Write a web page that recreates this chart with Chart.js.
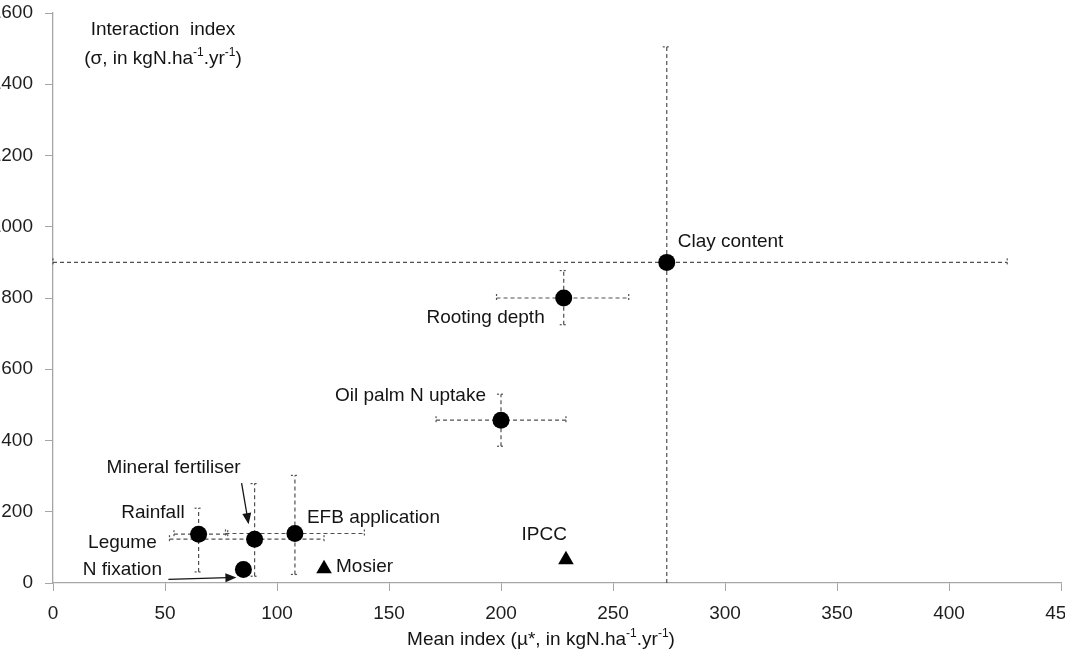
<!DOCTYPE html>
<html>
<head>
<meta charset="utf-8">
<script src="https://cdn.jsdelivr.net/npm/chart.js@4/dist/chart.umd.min.js"></script>
<style>
  html, body { margin: 0; padding: 0; background: #ffffff; overflow: hidden; width: 1065px; height: 661px; }
  #wrap { position: absolute; left: -20px; top: 0; }
</style>
</head>
<body>
<div id="wrap"><canvas id="c" width="1105" height="661"></canvas></div>
<script>
// ---- Data ----
const paramNames = ['Clay content', 'Rooting depth', 'Oil palm N uptake', 'Mineral fertiliser', 'Rainfall', 'EFB application', 'Legume N fixation'];
const meanIndex  = [274, 228, 200, 90, 65, 108, 85];          // μ*
const interIndex = [900, 800, 457, 123, 137, 139, 38];        // σ
const meanLow    = [0, 198, 171, 52, 54, 77, null];
const meanHigh   = [426, 257, 229, 121, 78, 139, null];
const interLow   = [0, 725, 384, 19, 31, 24, null];
const interHigh  = [1505, 877, 530, 279, 210, 302, null];

const refNames = ['Mosier', 'IPCC'];
const refMean  = [121, 229];
const refInter = [40, 65];

const xTicks = [0, 50, 100, 150, 200, 250, 300, 350, 400, 450];
const yTicks = [0, 200, 400, 600, 800, 1000, 1200, 1400, 1600];

// ---- Label styling (pixel offsets from each point) ----
const FONT = '"Liberation Sans", Arial, sans-serif';
const paramLabelStyle = [
  { lines: ['Clay content'], dx: 11, dy: -21, align: 'left' },
  { lines: ['Rooting depth'], dx: -19, dy: 20, align: 'right' },
  { lines: ['Oil palm N uptake'], dx: -15, dy: -24, align: 'right' },
  { lines: ['Mineral fertiliser'], dx: -81, dy: -71, align: 'center', arrow: [-13, -56, -6, -15] },
  { lines: ['Rainfall'], dx: -14, dy: -21, align: 'right' },
  { lines: ['EFB application'], dx: 12, dy: -16, align: 'left' },
  { lines: ['Legume', 'N fixation'], dx: -121, dy: -27, lineGap: 27, align: 'center', arrow: [-75, 10, -7, 8] }
];
const refLabelStyle = [
  { lines: ['Mosier'], dx: 12, dy: -2, align: 'left' },
  { lines: ['IPCC'], dx: 1, dy: -25, align: 'right' }
];

function drawRich(ctx, segs, x, y, size, align) {
  const supSize = Math.round(size * 0.62);
  let total = 0;
  const widths = segs.map(s => {
    ctx.font = (s.sup ? supSize : size) + 'px ' + FONT;
    const w = ctx.measureText(s.t).width;
    total += w;
    return w;
  });
  let cx = align === 'center' ? x - total / 2 : (align === 'right' ? x - total : x);
  ctx.textAlign = 'left';
  ctx.textBaseline = 'middle';
  segs.forEach((s, i) => {
    ctx.font = (s.sup ? supSize : size) + 'px ' + FONT;
    ctx.fillText(s.t, cx, s.sup ? y - size * 0.33 : y);
    cx += widths[i];
  });
}

function drawArrow(ctx, x1, y1, x2, y2) {
  const ang = Math.atan2(y2 - y1, x2 - x1);
  const head = 11, hw = 4.5;
  ctx.beginPath();
  ctx.moveTo(x1, y1);
  ctx.lineTo(x2 - Math.cos(ang) * head * 0.8, y2 - Math.sin(ang) * head * 0.8);
  ctx.stroke();
  ctx.beginPath();
  ctx.moveTo(x2, y2);
  ctx.lineTo(x2 - Math.cos(ang) * head - Math.sin(ang) * hw, y2 - Math.sin(ang) * head + Math.cos(ang) * hw);
  ctx.lineTo(x2 - Math.cos(ang) * head + Math.sin(ang) * hw, y2 - Math.sin(ang) * head - Math.cos(ang) * hw);
  ctx.closePath();
  ctx.fill();
}

const errorBars = {
  id: 'errorBars',
  beforeDatasetsDraw(chart) {
    const { ctx, chartArea: a, scales: { x, y } } = chart;
    ctx.save();
    ctx.beginPath();
    ctx.rect(a.left - 1, a.top, a.right - a.left + 2, a.bottom - a.top);
    ctx.clip();
    ctx.strokeStyle = '#505050';
    ctx.lineWidth = 1.2;
    const cap = 4;
    for (let i = 0; i < meanIndex.length; i++) {
      const px = x.getPixelForValue(meanIndex[i]);
      const py = y.getPixelForValue(interIndex[i]);
      if (meanLow[i] !== null) {
        const l = x.getPixelForValue(meanLow[i]), r = x.getPixelForValue(meanHigh[i]);
        ctx.setLineDash([4, 3]);
        ctx.beginPath(); ctx.moveTo(l, py); ctx.lineTo(r, py); ctx.stroke();
        ctx.setLineDash([2, 2]);
        [l, r].forEach(e => { ctx.beginPath(); ctx.moveTo(e, py - cap); ctx.lineTo(e, py + cap); ctx.stroke(); });
      }
      if (interLow[i] !== null) {
        const b = y.getPixelForValue(interLow[i]), t = y.getPixelForValue(interHigh[i]);
        ctx.setLineDash([4, 3]);
        ctx.beginPath(); ctx.moveTo(px, b); ctx.lineTo(px, t); ctx.stroke();
        ctx.setLineDash([2, 2]);
        [b, t].forEach((e, k) => {
          if (k === 0 && interLow[i] <= y.min) return;
          ctx.beginPath(); ctx.moveTo(px - cap, e); ctx.lineTo(px + cap, e); ctx.stroke();
        });
      }
    }
    ctx.restore();
  }
};

const labels = {
  id: 'labels',
  afterDatasetsDraw(chart) {
    const { ctx, chartArea: a, scales: { x, y } } = chart;
    ctx.save();
    ctx.fillStyle = '#141414';
    ctx.strokeStyle = '#141414';
    ctx.lineWidth = 1.3;
    ctx.setLineDash([]);
    const size = 19;
    const put = (names, xs, ys, styles) => {
      for (let i = 0; i < names.length; i++) {
        const px = x.getPixelForValue(xs[i]);
        const py = y.getPixelForValue(ys[i]);
        const s = styles[i];
        s.lines.forEach((ln, k) => {
          drawRich(ctx, [{ t: ln }], px + s.dx, py + s.dy + k * (s.lineGap || 0), size, s.align);
        });
        if (s.arrow) drawArrow(ctx, px + s.arrow[0], py + s.arrow[1], px + s.arrow[2], py + s.arrow[3]);
      }
    };
    put(paramNames, meanIndex, interIndex, paramLabelStyle);
    put(refNames, refMean, refInter, refLabelStyle);

    // axis titles
    drawRich(ctx, [{ t: 'Interaction  index' }], a.left + 110, 30, size, 'center');
    drawRich(ctx, [{ t: '(σ, in kgN.ha' }, { t: '-1', sup: true }, { t: '.yr' }, { t: '-1', sup: true }, { t: ')' }], a.left + 110, 59, size, 'center');
    drawRich(ctx, [{ t: 'Mean index (µ*, in kgN.ha' }, { t: '-1', sup: true }, { t: '.yr' }, { t: '-1', sup: true }, { t: ')' }], a.left + 488, a.bottom + 57, size, 'center');
    ctx.restore();
  }
};

const tickFont = { family: FONT, size: 19 };
const axisGrey = '#a6a6a6';

new Chart(document.getElementById('c'), {
  type: 'scatter',
  data: {
    datasets: [
      {
        label: 'Parameters',
        data: meanIndex.map((m, i) => ({ x: m, y: interIndex[i] })),
        pointStyle: 'circle', pointRadius: 8.5,
        backgroundColor: '#000', borderColor: '#000', borderWidth: 0
      },
      {
        label: 'References',
        data: refMean.map((m, i) => ({ x: m, y: refInter[i] })),
        pointStyle: 'triangle', pointRadius: 9,
        backgroundColor: '#000', borderColor: '#000', borderWidth: 0
      }
    ]
  },
  options: {
    responsive: false,
    animation: false,
    events: [],
    layout: { padding: { left: 0, right: 24, top: 13, bottom: 0 } },
    plugins: { legend: { display: false }, tooltip: { enabled: false } },
    scales: {
      x: {
        type: 'linear', min: xTicks[0], max: xTicks[xTicks.length - 1],
        afterBuildTicks(s) { s.ticks = xTicks.map(v => ({ value: v })); },
        afterFit(s) { s.height = 78; s.paddingLeft = 0; s.paddingRight = 0; },
        ticks: { font: tickFont, color: '#1e1e1e', padding: 11, maxRotation: 0, autoSkip: false, callback: v => String(v) },
        grid: { drawOnChartArea: false, drawTicks: true, tickLength: 8, color: axisGrey },
        border: { color: axisGrey, width: 1.3 }
      },
      y: {
        type: 'linear', min: yTicks[0], max: yTicks[yTicks.length - 1],
        afterBuildTicks(s) { s.ticks = yTicks.map(v => ({ value: v })); },
        afterFit(s) { s.width = 73; s.paddingTop = 0; s.paddingBottom = 0; },
        ticks: { font: tickFont, color: '#1e1e1e', padding: 12, autoSkip: false, callback: v => String(v) },
        grid: { drawOnChartArea: false, drawTicks: true, tickLength: 8, color: axisGrey },
        border: { color: axisGrey, width: 1.3 }
      }
    }
  },
  plugins: [errorBars, labels]
});
</script>
</body>
</html>
